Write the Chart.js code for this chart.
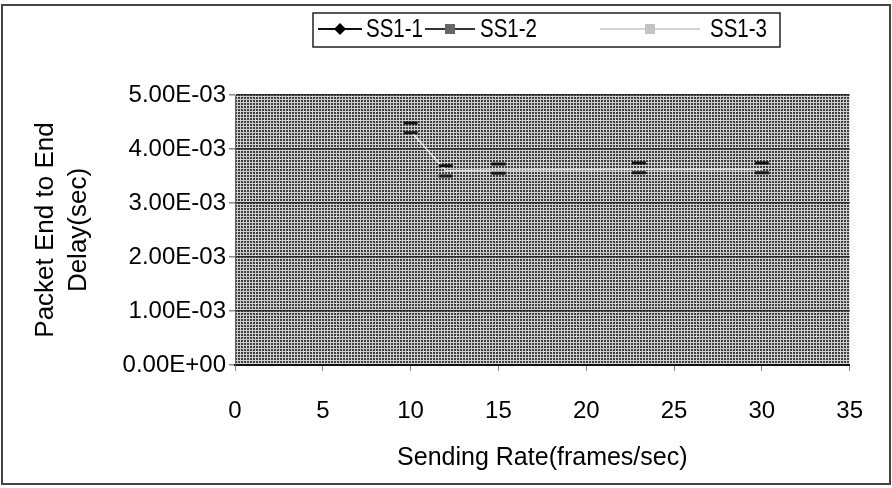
<!DOCTYPE html>
<html>
<head>
<meta charset="utf-8">
<script src="https://cdn.jsdelivr.net/npm/chart.js@4.4.1/dist/chart.umd.min.js"></script>
<style>
    html, body { margin: 0; padding: 0; background: #fff; }
    #frame { position: absolute; left: 1px; top: 4px; width: 886px; height: 477px; border: 2px solid #444; }
    canvas { display: block; }
</style>
</head>
<body>
<div id="frame"><canvas id="delayChart" width="886" height="477"></canvas></div>
<script>
// Packet end-to-end delay per sending rate, three runs
const sendingRate = [10, 12, 15, 23, 30];
const delaySS1_1 = [4.48e-3, 3.69e-3, 3.72e-3, 3.74e-3, 3.74e-3];
const delaySS1_2 = [4.30e-3, 3.50e-3, 3.55e-3, 3.56e-3, 3.56e-3];
const delaySS1_3 = [4.33e-3, 3.60e-3, 3.61e-3, 3.62e-3, 3.62e-3];
const seriesNames = ['SS1-1', 'SS1-2', 'SS1-3'];
const xTicks = [0, 5, 10, 15, 20, 25, 30, 35];
const yTicks = [0, 1e-3, 2e-3, 3e-3, 4e-3, 5e-3];

const FONT = "'Liberation Sans', Arial, sans-serif";
Chart.defaults.font.family = FONT;
Chart.defaults.color = '#000';

// Excel style scientific label, e.g. 4.00E-03
function sci(v) {
    if (v === 0) return '0.00E+00';
    const exp = Math.floor(Math.log10(Math.abs(v)) + 1e-9);
    const mant = v / Math.pow(10, exp);
    return mant.toFixed(2) + 'E' + (exp < 0 ? '-' : '+') + String(Math.abs(exp)).padStart(2, '0');
}

function toPoints(ys) {
    return sendingRate.map((x, i) => ({ x: x, y: ys[i] }));
}

// small halftone tile for the plot background
function halftone() {
    const c = document.createElement('canvas');
    c.width = 3; c.height = 3;
    const g = c.getContext('2d');
    g.fillStyle = '#d0d0d0';
    g.fillRect(0, 0, 3, 3);
    g.fillStyle = '#3e3e3e';
    g.fillRect(1, 1, 2, 2);
    return c;
}

const plotBackground = {
    id: 'plotBackground',
    beforeDraw(chart) {
        const { ctx, chartArea: a } = chart;
        ctx.save();
        ctx.fillStyle = ctx.createPattern(halftone(), 'repeat');
        ctx.fillRect(a.left, a.top, a.right - a.left, a.bottom - a.top);
        ctx.restore();
    }
};

// boxed legend: symbol start, symbol end, text x
const legendLayout = [[315, 359, 363], [422, 472, 477], [597, 697, 707]];
const legendSquash = 0.82;

const boxLegend = {
    id: 'boxLegend',
    afterDraw(chart) {
        const ctx = chart.ctx;
        const y = 23;
        ctx.save();
        ctx.strokeStyle = '#222';
        ctx.lineWidth = 1.5;
        ctx.strokeRect(310, 7, 467, 34);
        ctx.font = '25px ' + FONT;
        ctx.textBaseline = 'middle';
        chart.data.datasets.forEach((ds, i) => {
            const [x0, x1, tx] = legendLayout[i];
            const mid = (x0 + x1) / 2;
            ctx.strokeStyle = ds.legendLine;
            ctx.lineWidth = 2;
            ctx.beginPath();
            ctx.moveTo(x0, y);
            ctx.lineTo(x1, y);
            ctx.stroke();
            ctx.fillStyle = ds.legendMarker;
            if (ds.legendShape === 'diamond') {
                ctx.beginPath();
                ctx.moveTo(mid, y - 6);
                ctx.lineTo(mid + 6, y);
                ctx.lineTo(mid, y + 6);
                ctx.lineTo(mid - 6, y);
                ctx.closePath();
                ctx.fill();
            } else {
                ctx.fillRect(mid - 5, y - 5, 10, 10);
            }
            // narrow lettering
            ctx.save();
            ctx.translate(tx, y + 1);
            ctx.scale(legendSquash, 1);
            ctx.fillStyle = '#000';
            ctx.fillText(ds.label, 0, 0);
            ctx.restore();
        });
        ctx.restore();
    }
};

new Chart(document.getElementById('delayChart'), {
    type: 'line',
    data: {
        datasets: [{
            label: seriesNames[0],
            data: toPoints(delaySS1_1),
            showLine: false,
            pointStyle: 'line',
            pointRadius: 7,
            pointBorderWidth: 3,
            borderColor: '#111',
            legendLine: '#111',
            legendMarker: '#000',
            legendShape: 'diamond'
        }, {
            label: seriesNames[1],
            data: toPoints(delaySS1_2),
            showLine: false,
            pointStyle: 'line',
            pointRadius: 7,
            pointBorderWidth: 3,
            borderColor: '#1a1a1a',
            legendLine: '#333',
            legendMarker: '#666',
            legendShape: 'square'
        }, {
            label: seriesNames[2],
            data: toPoints(delaySS1_3),
            borderColor: 'rgba(250,250,250,0.8)',
            borderWidth: 1.5,
            pointRadius: 0,
            tension: 0,
            legendLine: '#d4d4d4',
            legendMarker: '#c4c4c4',
            legendShape: 'square'
        }]
    },
    options: {
        responsive: false,
        animation: false,
        layout: { padding: { top: 89, right: 30, bottom: 0, left: 0 } },
        plugins: {
            legend: { display: false },
            tooltip: { enabled: false }
        },
        scales: {
            x: {
                type: 'linear',
                min: 0,
                max: 35,
                afterBuildTicks: axis => { axis.ticks = xTicks.map(v => ({ value: v })); },
                afterFit: axis => { axis.height = 118; },
                grid: { drawOnChartArea: false, tickLength: 6, color: '#888' },
                border: { color: '#111', width: 2 },
                ticks: { font: { size: 24 }, padding: 26 },
                title: {
                    display: true,
                    text: 'Sending Rate(frames/sec)',
                    font: { size: 25 },
                    padding: { top: 4, bottom: 10 }
                }
            },
            y: {
                min: 0,
                max: 5e-3,
                afterBuildTicks: axis => { axis.ticks = yTicks.map(v => ({ value: v })); },
                afterFit: axis => { axis.width = 232; },
                grid: { color: '#2b2b2b', lineWidth: 1.5, tickLength: 6, tickColor: '#888' },
                border: { color: '#666', width: 1 },
                ticks: { font: { size: 24 }, padding: 3, callback: v => sci(v) },
                title: {
                    display: true,
                    text: ['Packet End to End', 'Delay(sec)'],
                    font: { size: 26, lineHeight: 1.27 },
                    padding: { top: 26, bottom: 0 }
                }
            }
        }
    },
    plugins: [plotBackground, boxLegend]
});
</script>
</body>
</html>
